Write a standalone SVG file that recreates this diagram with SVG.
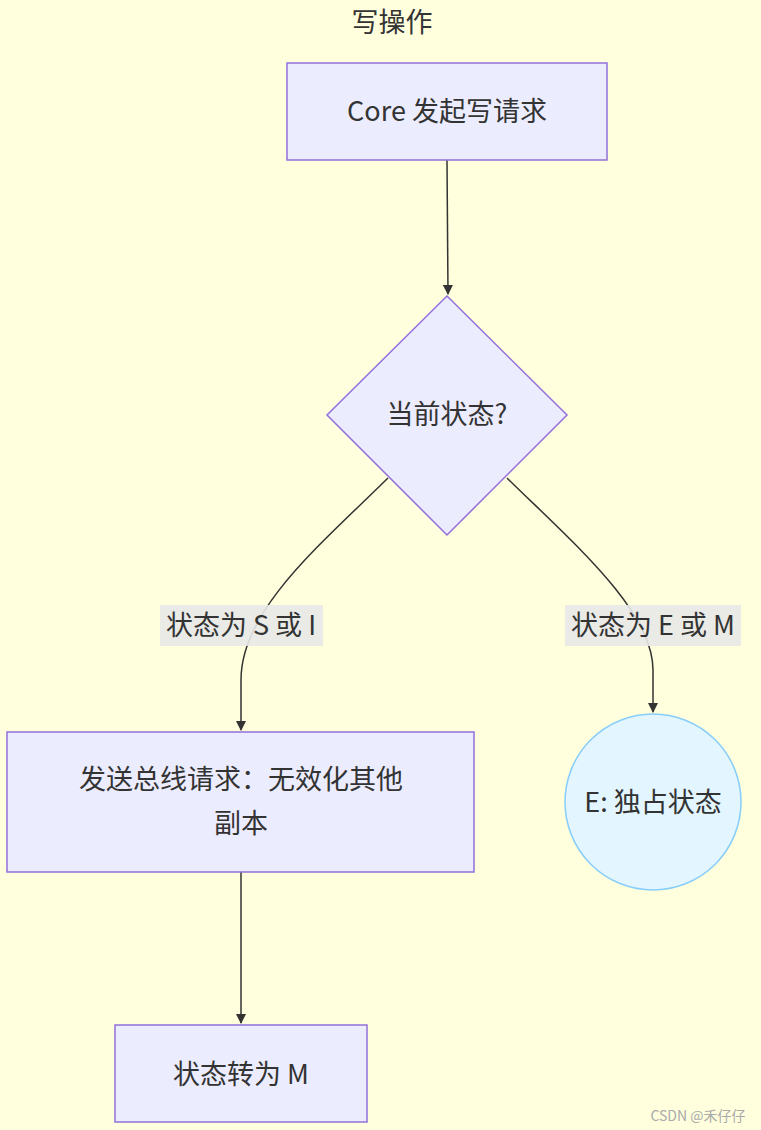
<svg xmlns="http://www.w3.org/2000/svg" width="761" height="1130" viewBox="0 0 761 1130">
<style>
text{font-family:"Noto Sans CJK SC","Noto Sans",sans-serif;fill:#333;text-anchor:middle;dominant-baseline:central}
.n{fill:#ECECFF;stroke:#9370DB;stroke-width:1.5}
.e{fill:none;stroke:#333;stroke-width:1.5}
.lb{fill:#E8E8E8;opacity:0.9}
.t{font-size:27px}
</style>
<defs><marker id="a" viewBox="0 0 10 10" refX="9" refY="5" markerWidth="7" markerHeight="7" orient="auto"><path d="M0,0L10,5L0,10z" fill="#333"/></marker></defs>
<rect width="761" height="1130" fill="#FFFFDE"/>
<text x="392" y="20" class="t">写操作</text>
<g id="edges">
<path class="e" d="M447,160L448,294" marker-end="url(#a)"/>
<path class="e" d="M388,478C320,545 241,610 241,680L241,730" marker-end="url(#a)"/>
<path class="e" d="M507,478C570,540 653,610 653,670L653,712" marker-end="url(#a)"/>
<path class="e" d="M241,872L241,1023" marker-end="url(#a)"/>
<rect class="lb" x="160" y="605" width="163" height="41"/>
<text x="241" y="623" class="t">状态为 S 或 I</text>
<rect class="lb" x="565" y="605" width="176" height="41"/>
<text x="653" y="623" class="t">状态为 E 或 M</text>
</g>
<g id="n1"><rect class="n" x="287" y="63" width="320" height="97"/><text x="447" y="109" class="t">Core 发起写请求</text></g>
<g id="n2"><polygon class="n" points="447,296 567,415 447,535 327,415"/><text x="447" y="412" class="t">当前状态?</text></g>
<g id="n3"><rect class="n" x="7" y="732" width="467" height="140"/><text x="241" y="777" class="t">发送总线请求：无效化其他</text><text x="241" y="821" class="t">副本</text></g>
<g id="n4"><circle cx="653" cy="802" r="88" fill="#E3F5FF" stroke="#87CEFA" stroke-width="1.5"/><text x="653" y="800" class="t">E: 独占状态</text></g>
<g id="n5"><rect class="n" x="115" y="1025" width="252" height="97"/><text x="241" y="1072" class="t">状态转为 M</text></g>
<text x="698" y="1115" style="font-size:14px;fill:#aaa">CSDN @禾仔仔</text>
</svg>
